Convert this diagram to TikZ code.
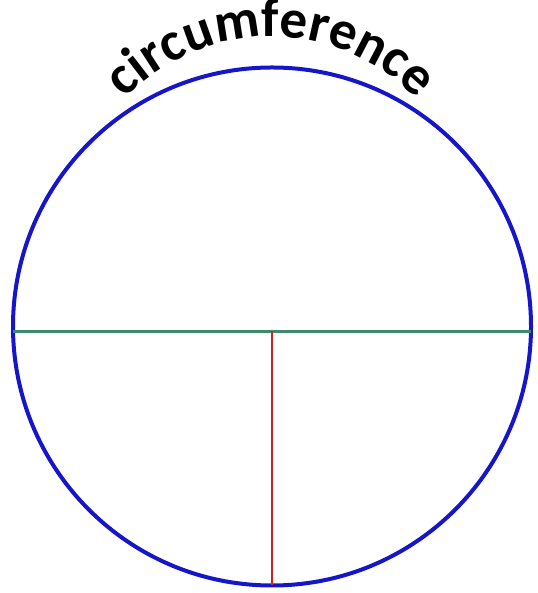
\documentclass[tikz,border=0pt]{standalone}
\usepackage{fontspec}
\setmainfont{Carlito}
\usepackage{tikz}
\usetikzlibrary{calc, decorations.text}
\definecolor{rimblue}{RGB}{22,22,200}
\definecolor{diamgreen}{RGB}{60,140,105}
\definecolor{radred}{RGB}{205,35,35}
\tikzset{
	rim/.style={circle, draw=rimblue, line width=4pt, minimum size=518pt,
		inner sep=0pt, outer sep=0pt},
	diamline/.style={draw=diamgreen, line width=3pt},
	radline/.style={draw=radred, line width=2.8pt},
	arclabel/.style={decorate, decoration={text along path, text align=center,
		text={|\fontsize{55}{58}\selectfont\bfseries|circumference}}}
}
\begin{document}
\begin{tikzpicture}[x=1pt, y=1pt]
			\useasboundingbox (0,0) rectangle (537,593);
			
			%% the circle
			\node[rim] (circ) at (272,266.5) {};
			
			%% diameter and radius
			\coordinate (dleft) at (circ.181.2);
			\coordinate (dright) at (circ.-1.2);
			\coordinate (mid) at ($(dleft)!(circ.center)!(dright)$);
			\draw[diamline] (dleft) -- (dright);
			\draw[radline] (mid) -- (circ.south);
			
			%% curved label
			\coordinate (lblc) at ($(circ.center)+(-1,86.5)$);
			\path[arclabel] ($(lblc)+(170:203)$)
			arc[start angle=170, end angle=10, radius=203];
			
		\end{tikzpicture}
\end{document}
